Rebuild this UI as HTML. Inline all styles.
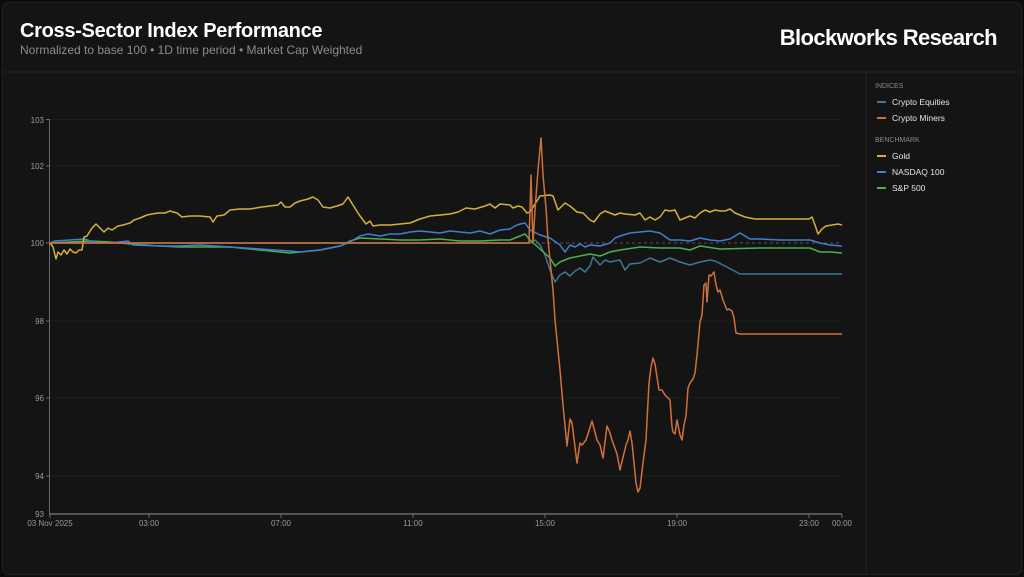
<!DOCTYPE html>
<html><head><meta charset="utf-8"><style>
html,body{margin:0;padding:0;background:#0d0d0d;width:1024px;height:577px;overflow:hidden;font-family:"Liberation Sans",sans-serif;}
</style></head><body>
<svg width="1024" height="577" viewBox="0 0 1024 577" xmlns="http://www.w3.org/2000/svg" font-family="Liberation Sans, sans-serif">
<rect x="0" y="0" width="1024" height="577" fill="#0d0d0d"/>
<rect x="2.5" y="2.5" width="1019" height="572" rx="6" fill="#141414" stroke="#222" />
<line x1="3" y1="72" x2="1021" y2="72" stroke="#242424"/>
<line x1="866" y1="72" x2="866" y2="574" stroke="#242424"/>
<text x="20" y="37" fill="#fff" font-size="20" font-weight="bold" letter-spacing="-0.3">Cross-Sector Index Performance</text>
<text x="20" y="54" fill="#8c8c8c" font-size="12">Normalized to base 100 • 1D time period • Market Cap Weighted</text>
<text x="997" y="45" fill="#fff" font-size="22" font-weight="bold" text-anchor="end" letter-spacing="-0.6">Blockworks Research</text>
<!-- legend -->
<g font-size="8.5" fill="#e6e6e6">
<text x="875" y="88" fill="#8a8a8a" font-size="7">INDICES</text>
<line x1="877" y1="102" x2="886" y2="102" stroke="#3d7898" stroke-width="2"/><text x="892" y="105">Crypto Equities</text>
<line x1="877" y1="118" x2="886" y2="118" stroke="#d0703a" stroke-width="2"/><text x="892" y="121">Crypto Miners</text>
<text x="875" y="142" fill="#8a8a8a" font-size="7">BENCHMARK</text>
<line x1="877" y1="156" x2="886" y2="156" stroke="#d4b03a" stroke-width="2"/><text x="892" y="159">Gold</text>
<line x1="877" y1="172" x2="886" y2="172" stroke="#3f7fd0" stroke-width="2"/><text x="892" y="175">NASDAQ 100</text>
<line x1="877" y1="188" x2="886" y2="188" stroke="#4caf50" stroke-width="2"/><text x="892" y="191">S&amp;P 500</text>
</g>
<!-- grid -->
<g stroke="#1e1e1e" stroke-width="1">
<line x1="50" y1="119.5" x2="842" y2="119.5"/>
<line x1="50" y1="166" x2="842" y2="166"/>
<line x1="50" y1="321" x2="842" y2="321"/>
<line x1="50" y1="398" x2="842" y2="398"/>
<line x1="50" y1="476" x2="842" y2="476"/>
</g>
<line x1="50" y1="243" x2="842" y2="243" stroke="#555" stroke-dasharray="3,3"/>
<!-- axes -->
<line x1="49.5" y1="119" x2="49.5" y2="514" stroke="#6a6a6a"/>
<line x1="49" y1="514" x2="842" y2="514" stroke="#6a6a6a" stroke-width="1.5"/>
<g font-size="8" fill="#9a9a9a" text-anchor="end">
<text x="44" y="123">103</text><text x="44" y="169">102</text><text x="44" y="246">100</text>
<text x="44" y="324">98</text><text x="44" y="401">96</text><text x="44" y="479">94</text><text x="44" y="517">93</text>
</g>
<g stroke="#6a6a6a"><line x1="46" y1="119.5" x2="49" y2="119.5"/><line x1="46" y1="166" x2="49" y2="166"/><line x1="46" y1="243" x2="49" y2="243"/><line x1="46" y1="321" x2="49" y2="321"/><line x1="46" y1="398" x2="49" y2="398"/><line x1="46" y1="476" x2="49" y2="476"/>
<line x1="50" y1="514" x2="50" y2="518"/><line x1="149" y1="514" x2="149" y2="518"/><line x1="281" y1="514" x2="281" y2="518"/><line x1="413" y1="514" x2="413" y2="518"/><line x1="545" y1="514" x2="545" y2="518"/><line x1="677" y1="514" x2="677" y2="518"/><line x1="809" y1="514" x2="809" y2="518"/><line x1="842" y1="514" x2="842" y2="518"/></g>
<g font-size="8" fill="#9a9a9a" text-anchor="middle">
<text x="50" y="526">03 Nov 2025</text><text x="149" y="526">03:00</text><text x="281" y="526">07:00</text><text x="413" y="526">11:00</text><text x="545" y="526">15:00</text><text x="677" y="526">19:00</text><text x="809" y="526">23:00</text><text x="842" y="526">00:00</text>
</g>
<g fill="none" stroke-width="1.5" stroke-linejoin="round">
<polyline stroke="#3d7898" points="50,243 527,243 530,243 535,240 540,245 545,255 550,270 555,282 560,275 565,272 570,276 575,271 580,268 585,272 590,266 593,257 600,265 605,260 610,262 620,260 625,270 630,264 640,263 650,258 660,262 670,258 680,262 690,265 700,262 710,260 715,261 725,266 740,274 842,274"/>
<polyline stroke="#4caf50" points="50,243 70,242 90,241 110,242 130,244 160,246 180,247 200,247 230,247 260,250 290,253 300,252 320,250 340,246 350,241 360,238 380,239 400,240 420,240 440,239 460,241 480,241 500,240 510,240 520,236 525,234 530,240 540,249 550,258 555,266 560,262 570,258 580,256 590,254 600,256 610,252 620,250 640,247 660,248 680,248 690,250 700,246 720,249 760,248 810,248 820,252 830,252 842,253"/>
<polyline stroke="#3f7fd0" points="50,243 55,241 70,240 85,239 90,241 100,243 110,243 128,241 133,245 160,246 180,246 200,245 230,247 260,249 290,251 300,252 320,250 340,246 350,242 360,236 368,234 380,236 390,234 400,234 410,232 420,231 430,232 440,233 450,231 460,232 470,233 480,231 490,234 500,230 510,229 515,226 520,224 525,223 530,230 540,235 550,238 560,245 565,252 570,245 575,247 580,244 585,247 590,245 600,246 610,243 615,238 620,236 630,233 640,232 650,231 660,233 670,240 680,240 690,241 700,238 710,240 720,241 730,239 740,233 745,236 750,239 760,239 780,240 800,240 810,240 820,243 830,245 842,246"/>
<polyline stroke="#d4b03a" points="50,243 53,247 56,259 58,252 61,255 64,250 67,254 70,249 73,252 76,253 79,250 82,250 84,237 87,236 92,228 96,224 100,228 104,232 108,228 112,230 118,226 123,225 130,223 134,220 140,218 147,215 152,214 158,213 165,213 170,211 177,213 182,217 190,216 200,216 210,217 213,222 217,216 224,215 230,210 240,209 250,209 256,208 262,207 270,206 278,205 281,202 285,207 290,207 295,203 300,201 308,199 313,197 318,200 323,207 330,208 337,206 343,204 348,197 353,205 360,216 366,224 370,221 373,226 380,225 390,225 400,224 410,223 420,219 430,216 440,215 450,214 458,212 466,208 475,209 485,206 490,204 495,208 500,204 510,205 513,208 518,206 522,207 527,213 530,212 535,204 540,196 550,195 553,196 558,210 565,203 570,206 577,212 583,213 590,220 594,222 600,214 605,211 615,215 620,213 625,214 635,215 640,213 645,220 650,217 655,220 660,217 665,210 670,211 675,210 680,220 685,218 690,216 695,218 700,213 705,210 710,212 715,210 720,211 725,211 730,209 735,213 745,217 755,219 765,219 780,219 800,219 809,219 812,217 815,225 818,234 822,229 826,226 832,225 838,224 842,225"/>
<polyline stroke="#d0703a" points="50,243 527,243 529,243 531,175 533,243 535,210 538,170 541,138 543,175 546,208 548,240 550,260 553,290 555,320 558,350 560,370 563,405 567,446 570,419 572,423 577,463 580,443 582,445 586,440 592,421 597,440 600,445 603,458 607,426 610,433 612,440 617,454 620,470 626,445 628,440 630,431 632,443 636,483 638,492 640,488 643,463 646,440 649,383 651,367 653,358 655,364 657,377 659,390 662,390 665,395 668,398 670,400 672,427 673,432 675,434 677,420 680,435 682,440 684,425 686,416 688,388 690,383 693,379 695,373 697,355 700,322 702,315 704,285 706,283 707,302 709,275 711,276 714,272 716,285 718,292 720,290 723,300 725,305 727,310 729,309 732,311 734,318 736,333 740,334 842,334"/>
</g>
</svg>
</body></html>
